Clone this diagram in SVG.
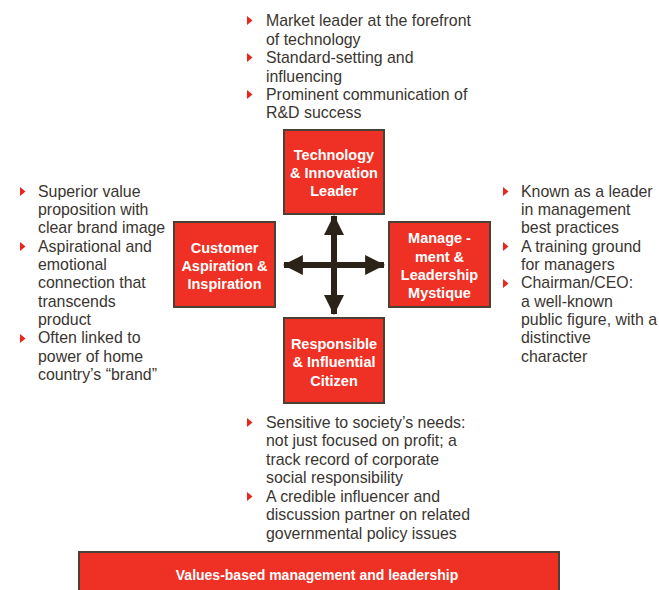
<svg xmlns="http://www.w3.org/2000/svg" width="659" height="590" viewBox="0 0 659 590">
<style>
.box{fill:#EE3124;stroke:#4a4036;stroke-width:2}
.bt{font-family:"Liberation Sans",Arial,sans-serif;font-weight:bold;font-size:14.5px;fill:#fff;text-anchor:middle}
.bt2{font-size:14px}
.tx{font-family:"Liberation Sans",Arial,sans-serif;font-size:15.9px;fill:#3a3530}
.bl{fill:#E8261C}
.arr{stroke:#2b2218;stroke-width:6;fill:none}
</style>
<defs>
<marker id="ah" markerUnits="userSpaceOnUse" markerWidth="20" markerHeight="20" refX="17" refY="9" orient="auto-start-reverse" viewBox="0 0 18 18">
<path d="M0,0 L18,9 L0,18 Z" fill="#2b2218"/>
</marker>
<path id="tri" d="M0,0 L5.5,4.5 L0,9 Z"/>
</defs>
<rect width="659" height="590" fill="#fff"/>
<g id="connectors">
<line class="arr" x1="334" y1="216" x2="334" y2="314" marker-start="url(#ah)" marker-end="url(#ah)"/>
<line class="arr" x1="284" y1="265" x2="384" y2="265" marker-start="url(#ah)" marker-end="url(#ah)"/>
</g>
<g id="tech">
<rect class="box" x="284" y="130" width="100" height="84"/>
<text class="bt" x="334" y="160">Technology</text>
<text class="bt" x="334" y="178">&amp; Innovation</text>
<text class="bt" x="334" y="196">Leader</text>
</g>
<g id="customer">
<rect class="box" x="174" y="222" width="101" height="85"/>
<text class="bt" x="224.5" y="253">Customer</text>
<text class="bt" x="224.5" y="271">Aspiration &amp;</text>
<text class="bt" x="224.5" y="289">Inspiration</text>
</g>
<g id="management">
<rect class="box" x="389" y="222" width="101" height="85"/>
<text class="bt" x="439.5" y="243">Manage -</text>
<text class="bt" x="439.5" y="261.5">ment &amp;</text>
<text class="bt" x="439.5" y="280">Leadership</text>
<text class="bt" x="439.5" y="298">Mystique</text>
</g>
<g id="citizen">
<rect class="box" x="284" y="318" width="100" height="85"/>
<text class="bt" x="334" y="349">Responsible</text>
<text class="bt" x="334" y="367">&amp; Influential</text>
<text class="bt" x="334" y="386">Citizen</text>
</g>
<g id="values">
<rect class="box" x="79" y="552" width="480" height="45"/>
<text class="bt bt2" x="317" y="580">Values-based management and leadership</text>
</g>
<g id="top-bullets">
<use href="#tri" class="bl" x="247" y="16"/>
<use href="#tri" class="bl" x="247" y="53"/>
<use href="#tri" class="bl" x="247" y="90"/>
<text class="tx" x="266" y="26">Market leader at the forefront</text>
<text class="tx" x="266" y="44.5">of technology</text>
<text class="tx" x="266" y="63">Standard-setting and</text>
<text class="tx" x="266" y="81.5">influencing</text>
<text class="tx" x="266" y="100">Prominent communication of</text>
<text class="tx" x="266" y="118">R&amp;D success</text>
</g>
<g id="left-bullets">
<use href="#tri" class="bl" x="20" y="187"/>
<use href="#tri" class="bl" x="20" y="242"/>
<use href="#tri" class="bl" x="20" y="334"/>
<text class="tx" x="38" y="196.5">Superior value</text>
<text class="tx" x="38" y="215">proposition with</text>
<text class="tx" x="38" y="233.3">clear brand image</text>
<text class="tx" x="38" y="251.7">Aspirational and</text>
<text class="tx" x="38" y="270">emotional</text>
<text class="tx" x="38" y="288.3">connection that</text>
<text class="tx" x="38" y="306.7">transcends</text>
<text class="tx" x="38" y="325">product</text>
<text class="tx" x="38" y="343.3">Often linked to</text>
<text class="tx" x="38" y="361.7">power of home</text>
<text class="tx" x="38" y="380">country’s “brand”</text>
</g>
<g id="right-bullets">
<use href="#tri" class="bl" x="503" y="187"/>
<use href="#tri" class="bl" x="503" y="242"/>
<use href="#tri" class="bl" x="503" y="279"/>
<text class="tx" x="521" y="196.5">Known as a leader</text>
<text class="tx" x="521" y="215">in management</text>
<text class="tx" x="521" y="233.3">best practices</text>
<text class="tx" x="521" y="251.7">A training ground</text>
<text class="tx" x="521" y="270">for managers</text>
<text class="tx" x="521" y="288.3">Chairman/CEO:</text>
<text class="tx" x="521" y="306.7">a well-known</text>
<text class="tx" x="521" y="325">public figure, with a</text>
<text class="tx" x="521" y="343.3">distinctive</text>
<text class="tx" x="521" y="361.7">character</text>
</g>
<g id="bottom-bullets">
<use href="#tri" class="bl" x="247" y="418"/>
<use href="#tri" class="bl" x="247" y="492"/>
<text class="tx" x="266" y="427.5">Sensitive to society’s needs:</text>
<text class="tx" x="266" y="446">not just focused on profit; a</text>
<text class="tx" x="266" y="465">track record of corporate</text>
<text class="tx" x="266" y="483">social responsibility</text>
<text class="tx" x="266" y="501.5">A credible influencer and</text>
<text class="tx" x="266" y="520">discussion partner on related</text>
<text class="tx" x="266" y="538.5">governmental policy issues</text>
</g>
</svg>
